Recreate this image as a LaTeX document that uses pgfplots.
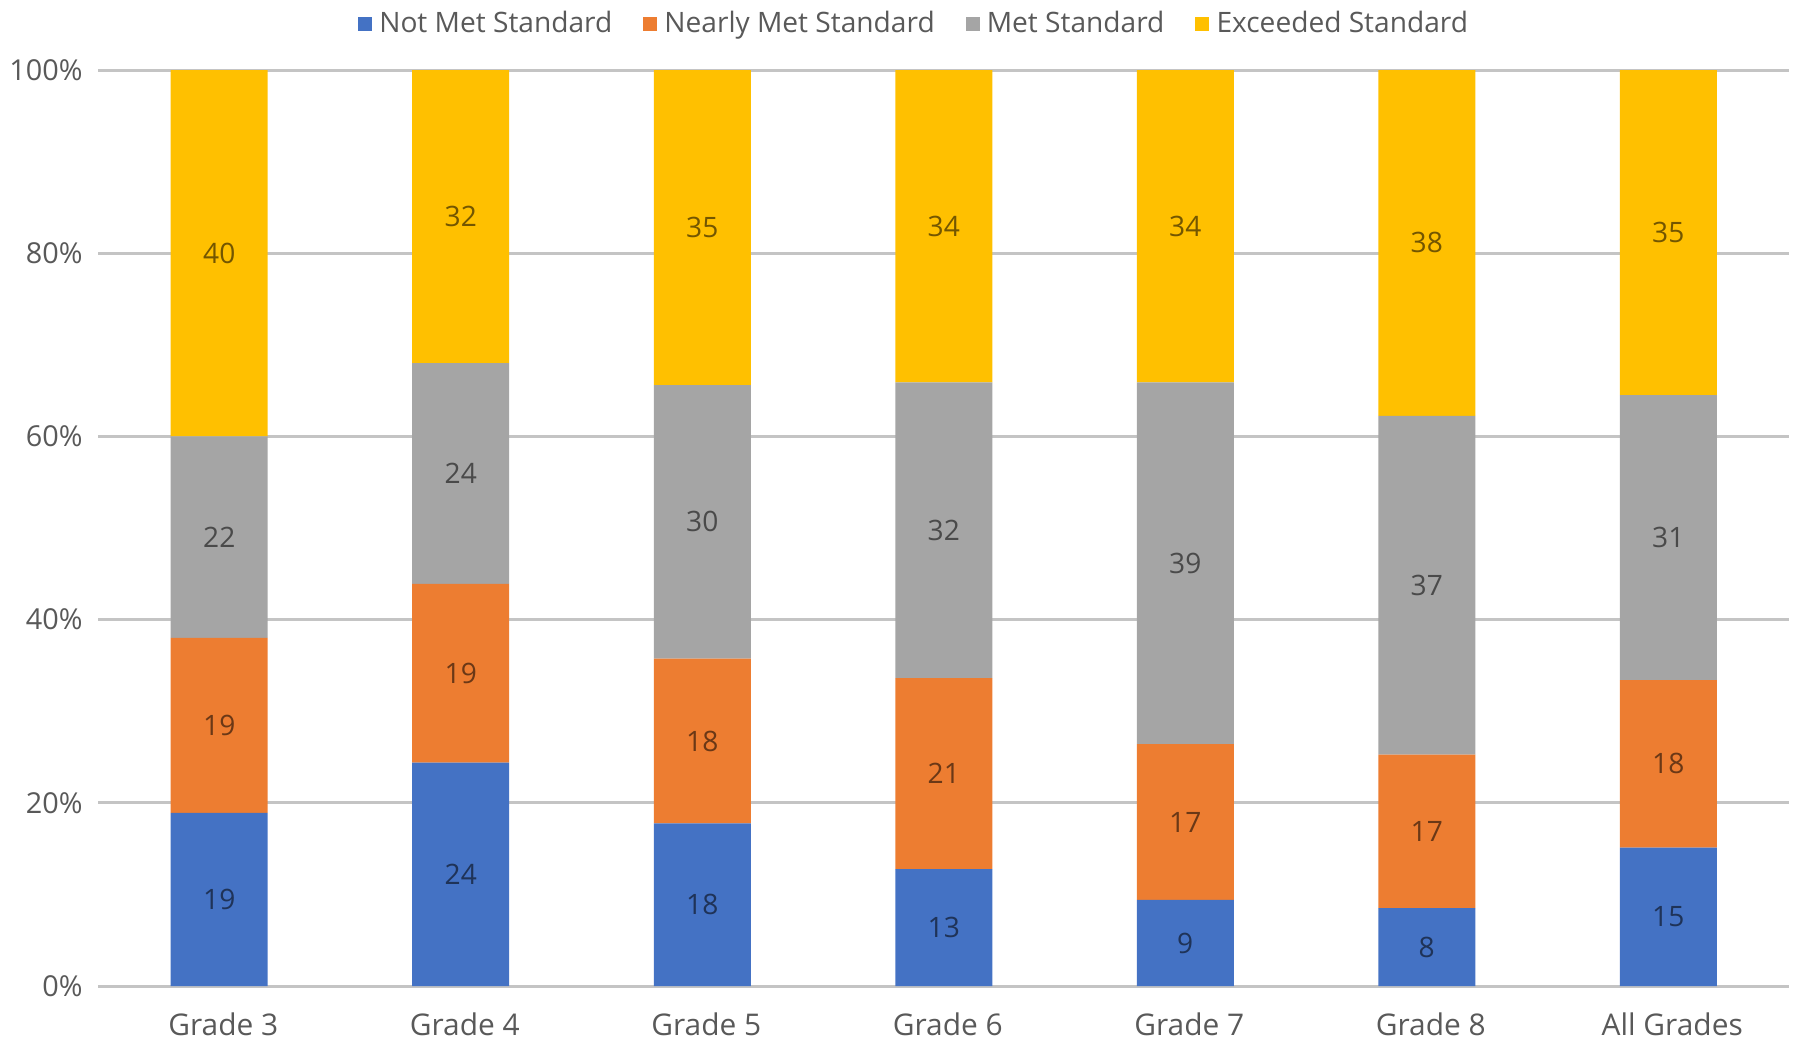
\documentclass[border=0pt]{standalone}
\usepackage{pgfplots}
\pgfplotsset{compat=1.18}
\usepackage{pgfplotstable}
\usepackage{fontspec}
\setmainfont{Open Sans}
\definecolor{cBlue}{HTML}{4472C4}
\definecolor{cOrange}{HTML}{ED7D31}
\definecolor{cGray}{HTML}{A5A5A5}
\definecolor{cGold}{HTML}{FFC000}
\definecolor{gridgray}{HTML}{C4C4C4}
\definecolor{tickgray}{HTML}{595959}

\pgfplotstableread{
x nm   nml nr   nrl me    mel ex    exl
0 18.9  19 19.1  19 22.0  22  40.0  40
1 24.4  24 19.5  19 24.1  24  32.0  32
2 17.75 18 18.0  18 29.85 30  34.4  35
3 12.75 13 20.85 21 32.3  32  34.1  34
4 9.4    9 17.0  17 39.5  39  34.1  34
5 8.5    8 16.75 17 37.0  37  37.75 38
6 15.1  15 18.3  18 31.1  31  35.5  35
}\data

\begin{document}
\begin{tikzpicture}
\begin{axis}[
  name=ax,
  scale only axis,
  width=169.05mm, height=91.6mm,
  ybar stacked,
  bar width=9.7mm,
  xmin=-0.5, xmax=6.5,
  ymin=0, ymax=100,
  xtick={0,1,2,3,4,5,6},
  xticklabels={Grade 3,Grade 4,Grade 5,Grade 6,Grade 7,Grade 8,All Grades},
  ytick={0,20,40,60,80,100},
  yticklabel={\pgfmathprintnumber{\tick}\%},
  /pgf/number format/assume math mode=true,
  ymajorgrids,
  grid style={draw=gridgray, line width=0.3mm},
  axis line style={draw=none},
  major tick length=0pt,
  ticklabel style={text=tickgray},
  yticklabel style={font=\fontsize{8.2}{9}\selectfont, xshift=-0.35mm},
  xticklabel style={font=\fontsize{8.5}{9}\selectfont, yshift=-1.4mm, xshift=0.4mm},
  point meta=explicit,
  nodes near coords={\pgfmathprintnumber[fixed,precision=0]{\pgfplotspointmeta}},
  every node near coord/.append style={font=\fontsize{8.0}{9}\selectfont, anchor=center},
  legend columns=4,
  legend style={draw=none, fill=none, at={(0.484,1)}, anchor=center, yshift=4.6mm,
    font=\fontsize{8.0}{9}\selectfont, text=tickgray,
    /tikz/every even column/.append style={column sep=2.4mm}},
  legend image code/.code={\fill[#1] (0mm,-0.7mm) rectangle (1.4mm,0.7mm);},
]
\addplot[fill=cBlue, draw=none,
  nodes near coords style={text=cBlue!45!black}] table[x=x,y=nm,meta=nml]{\data};
\addplot[fill=cOrange, draw=none,
  nodes near coords style={text=cOrange!45!black}] table[x=x,y=nr,meta=nrl]{\data};
\addplot[fill=cGray, draw=none,
  nodes near coords style={text=cGray!45!black}] table[x=x,y=me,meta=mel]{\data};
\addplot[fill=cGold, draw=none,
  nodes near coords style={text=cGold!45!black}] table[x=x,y=ex,meta=exl]{\data};
\legend{Not Met Standard,Nearly Met Standard,Met Standard,Exceeded Standard}
\end{axis}
\pgfresetboundingbox
\path[use as bounding box] ([xshift=-9.85mm,yshift=-5.2mm]ax.south west) rectangle ([xshift=0.8mm,yshift=7.0mm]ax.north east);
\end{tikzpicture}
\end{document}
